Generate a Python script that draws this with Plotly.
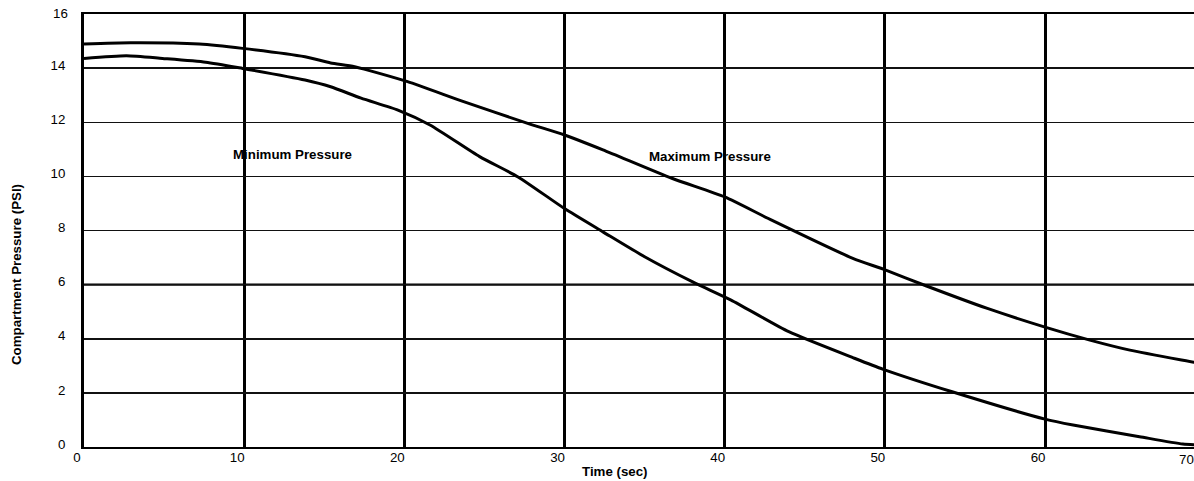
import plotly.graph_objects as go

# Data
time_max = [0, 2.9, 7.2, 9.9, 13.8, 15.4, 16.9, 20.2, 23.7, 27.7, 30.0, 32.4, 36.7, 40.0,
            42.9, 48.0, 49.9, 52.6, 56.4, 60.0, 62.8, 65.3, 69.3, 70.0]
pressure_max = [14.89, 14.94, 14.89, 14.73, 14.42, 14.19, 14.05, 13.50, 12.76, 11.96, 11.53,
                10.98, 9.93, 9.24, 8.39, 6.97, 6.57, 5.95, 5.12, 4.43, 3.95, 3.58, 3.13, 3.05]

time_min = [0, 2.65, 4.9, 7.6, 9.9, 13.8, 15.4, 17.3, 19.6, 21.6, 24.7, 27.1, 30.0, 32.4,
            35.0, 38.0, 40.4, 44.0, 48.1, 49.9, 54.2, 60.0, 61.75, 65.9, 68.6, 70.0]
pressure_min = [14.36, 14.46, 14.36, 14.22, 13.99, 13.56, 13.31, 12.89, 12.45, 11.90, 10.73,
                9.98, 8.81, 7.95, 7.03, 6.10, 5.43, 4.26, 3.28, 2.87, 2.04, 1.03, 0.81,
                0.38, 0.11, 0.07]

x_ticks = [0, 10, 20, 30, 40, 50, 60, 70]
y_ticks = [0, 2, 4, 6, 8, 10, 12, 14, 16]
x_visible_max = 69.3
emphasised_y = 6

label_min = {"text": "Minimum Pressure", "x": 13.0, "y": 10.8}
label_max = {"text": "Maximum Pressure", "x": 39.1, "y": 10.73}

W, H = 1194, 481
ml, mr, mt, mb = 84, 0, 14, 34
pw = W - ml - mr
ph = H - mt - mb

font_family = "Liberation Sans, Arial, Helvetica, sans-serif"
fs = 13.3

fig = go.Figure()
for xs, ys in [(time_max, pressure_max), (time_min, pressure_min)]:
    fig.add_trace(go.Scatter(x=xs, y=ys, mode="lines",
                             line=dict(color="black", width=3, shape="spline", smoothing=0.6),
                             showlegend=False, hoverinfo="skip", cliponaxis=True))

fig.add_hline(y=emphasised_y, line=dict(color="black", width=2.4), layer="below")

for lab in (label_min, label_max):
    fig.add_annotation(x=lab["x"], y=lab["y"], text=lab["text"], showarrow=False,
                       font=dict(family=font_family, size=fs, color="black", weight="bold"),
                       xanchor="center", yanchor="middle")

x_range = [x_ticks[0], x_visible_max]
y_range = [y_ticks[0], y_ticks[-1]]

# last x tick label sits on the right edge
fig.add_annotation(xref="paper", yref="paper", x=1, y=0,
                   text=str(x_ticks[-1]), showarrow=False, xshift=-8, yshift=-3,
                   font=dict(family=font_family, size=fs, color="black"),
                   xanchor="center", yanchor="top")
# top y tick label sits at the top edge of the figure
fig.add_annotation(xref="paper", yref="paper", x=0, y=1,
                   text=str(y_ticks[-1]), showarrow=False, xshift=-14, yshift=1,
                   font=dict(family=font_family, size=fs, color="black"),
                   xanchor="right", yanchor="middle")

# Axis titles (placed where the reference has them)
fig.add_annotation(xref="paper", yref="paper",
                   x=(615 - ml) / pw, y=-(471 - (H - mb)) / ph,
                   text="Time (sec)", showarrow=False,
                   font=dict(family=font_family, size=fs, color="black", weight="bold"),
                   xanchor="center", yanchor="middle")
fig.add_annotation(xref="paper", yref="paper",
                   x=-(ml - 16) / pw, y=((H - mb) - 275) / ph,
                   text="Compartment Pressure (PSI)", showarrow=False, textangle=-90,
                   font=dict(family=font_family, size=fs, color="black", weight="bold"),
                   xanchor="center", yanchor="middle")

fig.update_layout(
    width=W, height=H,
    margin=dict(l=ml, r=mr, t=mt, b=mb, autoexpand=False),
    paper_bgcolor="white", plot_bgcolor="white",
    font=dict(family=font_family, size=fs, color="black"),
    xaxis=dict(range=x_range, tickvals=x_ticks[:-1],
               showgrid=True, gridcolor="black", gridwidth=3, zeroline=False,
               showline=True, linecolor="black", linewidth=2, mirror=True,
               ticks="", ticklabelshift=-7, ticklabelstandoff=-3,
               tickfont=dict(family=font_family, size=fs, color="black")),
    yaxis=dict(range=y_range, tickvals=y_ticks[:-1],
               showgrid=True, gridcolor="#111111", gridwidth=1.5, zeroline=False,
               showline=True, linecolor="black", linewidth=3,
               ticks="", ticklabelshift=-3, ticklabelstandoff=13,
               tickfont=dict(family=font_family, size=fs, color="black")),
)

fig.write_html("out.html",
               config={"displayModeBar": False, "staticPlot": True},
               post_script="document.body.style.margin='0';document.body.style.overflow='hidden';")
